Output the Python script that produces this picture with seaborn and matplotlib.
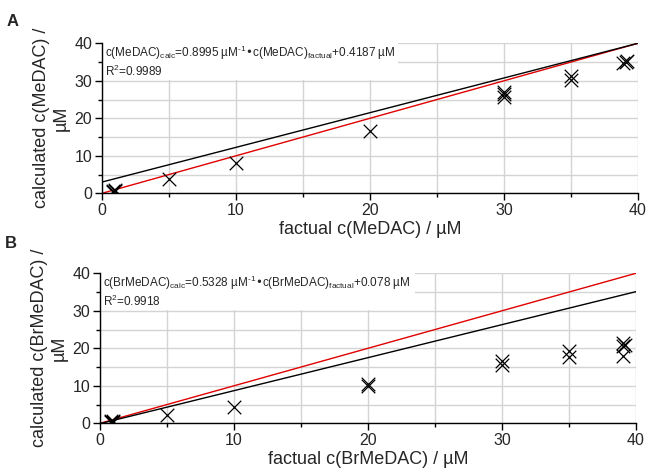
import numpy as np
import pandas as pd
import matplotlib
matplotlib.use('Agg')
import matplotlib.pyplot as plt
from matplotlib.patches import Rectangle
from matplotlib.ticker import MultipleLocator
import seaborn as sns

sns.set_theme(style='ticks')
plt.rcParams['font.family'] = ['Liberation Sans', 'DejaVu Sans']
plt.rcParams['mathtext.default'] = 'regular'

# panel A - MeDAC
factual_A = [0.8, 0.8, 1, 1, 5, 10, 20, 30, 30, 30, 35, 35, 38.9, 39.1, 39.2]
calc_A = [0.3, 0.6, 0.8, 0.5, 3.7, 8.1, 16.6, 25.8, 26.4, 27.0, 30.3, 31.2, 34.7, 35.0, 35.3]
fit_x_A = [0, 40]
fit_y_A = [3.0, 40.0]
eq_A = 'c(MeDAC)$_{calc}$=0.8995 µM$^{\u2010 1}$•c(MeDAC)$_{factual}$+0.4187 µM'
r2_A = 'R$^{2}$=0.9989'

# panel B - BrMeDAC
factual_B = [0.8, 0.8, 1, 1, 5, 10, 20, 20, 30, 30, 35, 35, 39, 39, 39, 39.2]
calc_B = [0.3, 0.6, 0.7, 0.4, 2.2, 4.4, 10.0, 10.5, 15.6, 16.5, 17.7, 19.4, 21.3, 20.6, 17.9, 21.0]
fit_x_B = [0, 40]
fit_y_B = [-0.1, 35.1]
eq_B = 'c(BrMeDAC)$_{calc}$=0.5328 µM$^{\u2010 1}$•c(BrMeDAC)$_{factual}$+0.078 µM'
r2_B = 'R$^{2}$=0.9918'

ideal_x = [0, 40]
ideal_y = [0, 40]

fig = plt.figure(figsize=(6.46, 4.71), dpi=100)
ax_A = fig.add_axes([0.1579, 0.5896, 0.8297, 0.3185])
ax_B = fig.add_axes([0.1548, 0.1013, 0.8297, 0.3185])


def draw_panel(ax, fx, cy, fit_x, fit_y, eq, r2, box_w, name):
    ax.add_patch(Rectangle((0, 30.2), box_w, 9.8, facecolor='white',
                           edgecolor='none', zorder=1))
    sns.lineplot(x=ideal_x, y=ideal_y, color='#e00000', lw=1, ax=ax, zorder=2)
    sns.lineplot(x=fit_x, y=fit_y, color='black', lw=1, ax=ax, zorder=2)
    sns.scatterplot(x=fx, y=cy, marker='x', color='black', s=95,
                    linewidth=0.9, ax=ax, zorder=3)
    ax.text(0.25, 37.4, eq, fontsize=8.5, va='center', ha='left', zorder=4)
    ax.text(0.25, 32.4, r2, fontsize=8.5, va='center', ha='left', zorder=4)

    ax.set_xlim(0, 40)
    ax.set_ylim(0, 40)
    ax.xaxis.set_major_locator(MultipleLocator(10))
    ax.xaxis.set_minor_locator(MultipleLocator(5))
    ax.yaxis.set_major_locator(MultipleLocator(10))
    ax.yaxis.set_minor_locator(MultipleLocator(5))
    ax.grid(which='both', color='#d4d4d4', lw=1)
    ax.set_axisbelow(True)
    ax.tick_params(which='major', direction='out', length=5, width=1,
                   labelsize=11.5, color='black', pad=2)
    ax.tick_params(which='minor', direction='out', length=3, width=1, color='black')
    for s in ['top', 'right']:
        ax.spines[s].set_visible(False)
    for s in ['left', 'bottom']:
        ax.spines[s].set_color('black')
        ax.spines[s].set_linewidth(1)
    ax.set_xlabel('factual c(%s) / µM' % name, fontsize=13, labelpad=2)
    ax.set_ylabel('calculated c(%s) /\nµM' % name, fontsize=13)
    ax.yaxis.set_label_coords(-0.06, 0.5)


draw_panel(ax_A, factual_A, calc_A, fit_x_A, fit_y_A, eq_A, r2_A, 22.1, 'MeDAC')
draw_panel(ax_B, factual_B, calc_B, fit_x_B, fit_y_B, eq_B, r2_B, 23.5, 'BrMeDAC')

fig.text(13 / 646, 1 - 22 / 471, 'A', fontsize=12, weight='bold', ha='center', va='center')
fig.text(11 / 646, 1 - 243 / 471, 'B', fontsize=12, weight='bold', ha='center', va='center')

fig.savefig('out.png', dpi=100)
